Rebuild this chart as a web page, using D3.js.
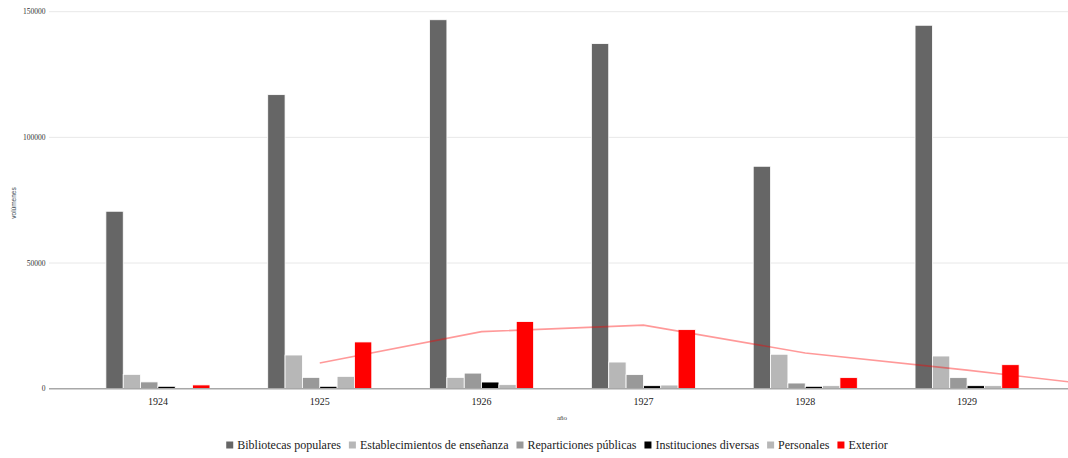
<!DOCTYPE html>
<html>
<head>
<meta charset="utf-8">
<script src="https://cdn.jsdelivr.net/npm/d3@7/dist/d3.min.js"></script>
<style>
  html, body { margin: 0; padding: 0; background: #ffffff; }
  svg { display: block; }
</style>
</head>
<body>
<svg id="chart" width="1068" height="458"></svg>
<script>
// ---- data ----
const years = ["1924", "1925", "1926", "1927", "1928", "1929"];
const seriesNames = ["Bibliotecas populares", "Establecimientos de enseñanza", "Reparticiones públicas", "Instituciones diversas", "Personales", "Exterior"];
const bibliotecas = [70600, 117000, 146800, 137300, 88500, 144600];
const establecimientos = [5700, 13400, 4500, 10600, 13700, 13000];
const reparticiones = [2700, 4500, 6200, 5600, 2250, 4400];
const instituciones = [950, 950, 2650, 1200, 950, 1200];
const personales = [300, 4900, 1600, 1450, 1200, 1200];
const exterior = [1500, 18600, 26700, 23500, 4400, 9550];
// moving-average trend line of "Exterior", starts at 1925
const trendYears = ["1925", "1926", "1927", "1928", "1929"];
const trendValues = [10200, 22700, 25300, 14200, 7400];
const trendEndValue = 2400; // value where the line meets the right edge of the plot
const yTicks = [0, 50000, 100000, 150000];
const colors = ["#666666", "#b7b7b7", "#999999", "#000000", "#b7b7b7", "#ff0000"];

const seriesValues = [bibliotecas, establecimientos, reparticiones, instituciones, personales, exterior];

// ---- font detection: pick an installed serif face ----
function fontAvailable(name) {
  const c = document.createElement("canvas").getContext("2d");
  const s = "Bibliotecas populares 1924 Wiggly";
  const res = [];
  for (const base of ["monospace", "sans-serif"]) {
    c.font = `40px ${base}`;
    const w0 = c.measureText(s).width;
    c.font = `40px "${name}", ${base}`;
    const w1 = c.measureText(s).width;
    res.push(Math.abs(w0 - w1) > 0.5);
  }
  return res[0] && res[1];
}
const serifCandidates = ["Liberation Serif", "Tinos", "DejaVu Serif", "Noto Serif", "FreeSerif", "Times New Roman", "Times", "Nimbus Roman", "Noto Serif CJK SC"];
const foundSerif = serifCandidates.find(fontAvailable);
const SERIF = foundSerif ? `"${foundSerif}", serif` : `"Liberation Sans", Arial, sans-serif`;
const SANS = `"Liberation Sans", Arial, sans-serif`;

// ---- layout ----
const svg = d3.select("#chart");
const plotLeft = 49, plotRight = 1076, plotTop = 11.7, plotBottom = 388.7;
const outerPad = 28;

const x = d3.scaleBand().domain(years).range([plotLeft + outerPad, plotRight - outerPad]).paddingInner(0).paddingOuter(0);
const groupWidth = x.bandwidth() * 0.643;
const xInner = d3.scaleBand().domain(d3.range(seriesNames.length)).range([0, groupWidth]).padding(0);
const y = d3.scaleLinear().domain([0, 150000]).range([plotBottom, plotTop]);

// gridlines
svg.append("g").selectAll("line").data(yTicks.filter(d => d !== 0)).join("line")
  .attr("x1", plotLeft).attr("x2", plotRight)
  .attr("y1", d => y(d)).attr("y2", d => y(d))
  .attr("stroke", "#e8e8e8").attr("stroke-width", 1);

// y tick labels
svg.append("g").selectAll("text").data(yTicks).join("text")
  .attr("x", plotLeft - 3.5).attr("y", d => y(d))
  .attr("dy", "0.35em")
  .attr("text-anchor", "end")
  .style("font-family", SERIF)
  .style("font-size", foundSerif ? "7.5px" : "7px")
  .attr("fill", "#333333")
  .text(d => d);

// bars
const groups = svg.append("g").selectAll("g").data(years).join("g")
  .attr("transform", d => `translate(${x(d) + (x.bandwidth() - groupWidth) / 2},0)`);
groups.selectAll("rect").data((yr, i) => seriesValues.map((vals, s) => ({ s, v: vals[i] }))).join("rect")
  .attr("x", d => xInner(d.s))
  .attr("width", xInner.bandwidth())
  .attr("y", d => y(d.v))
  .attr("height", d => y(0) - y(d.v))
  .attr("fill", d => colors[d.s])
  .attr("stroke", "#ffffff")
  .attr("stroke-width", 0.8);

// baseline
svg.append("line")
  .attr("x1", plotLeft).attr("x2", plotRight)
  .attr("y1", y(0)).attr("y2", y(0))
  .attr("stroke", "#a8a8a8").attr("stroke-width", 1.5);

// trend line
const trendPts = trendYears.map((yr, i) => [x(yr) + x.bandwidth() / 2, y(trendValues[i])]);
trendPts.push([plotRight, y(trendEndValue)]);
svg.append("path")
  .attr("d", d3.line()(trendPts))
  .attr("fill", "none")
  .attr("stroke", "#ff0000")
  .attr("stroke-opacity", 0.4)
  .attr("stroke-width", 1.6);

// x tick labels
svg.append("g").selectAll("text").data(years).join("text")
  .attr("x", d => x(d) + x.bandwidth() / 2)
  .attr("y", 405)
  .attr("text-anchor", "middle")
  .style("font-family", SERIF)
  .style("font-size", foundSerif ? "10px" : "9px")
  .attr("fill", "#222222")
  .text(d => d);

// axis titles
svg.append("text")
  .attr("x", 562).attr("y", 420)
  .attr("text-anchor", "middle")
  .style("font-family", SERIF)
  .style("font-size", "7px")
  .attr("fill", "#444444")
  .text("año");

svg.append("text")
  .attr("transform", "translate(16,203) rotate(-90)")
  .attr("text-anchor", "middle")
  .style("font-family", SANS)
  .style("font-size", "6.5px")
  .attr("fill", "#37474f")
  .text("volúmenes");

// legend
const legend = svg.append("g");
const items = legend.selectAll("g").data(seriesNames).join("g");
items.append("rect").attr("width", 7).attr("height", 7).attr("y", -7.5)
  .attr("fill", (d, i) => colors[i]);
const legendTexts = items.append("text").attr("x", 11).attr("y", 0)
  .style("font-family", SERIF)
  .style("font-size", "12px")
  .attr("fill", "#222222")
  .text(d => d);
// fit legend texts to the reference's total text width
const targetTextWidth = 671 - 6 * 11 - 5 * 8;
let sumW = 0;
legendTexts.each(function () { sumW += this.getComputedTextLength(); });
if (sumW > targetTextWidth * 1.02) {
  legendTexts.style("font-size", (12 * targetTextWidth / sumW).toFixed(2) + "px");
}
let cx = 0;
const offsets = [];
items.each(function () {
  const w = d3.select(this).select("text").node().getComputedTextLength();
  offsets.push(cx);
  cx += 11 + w + 8;
});
const total = cx - 8;
const startX = 557 - total / 2;
items.attr("transform", (d, i) => `translate(${startX + offsets[i]},449)`);
</script>
</body>
</html>
